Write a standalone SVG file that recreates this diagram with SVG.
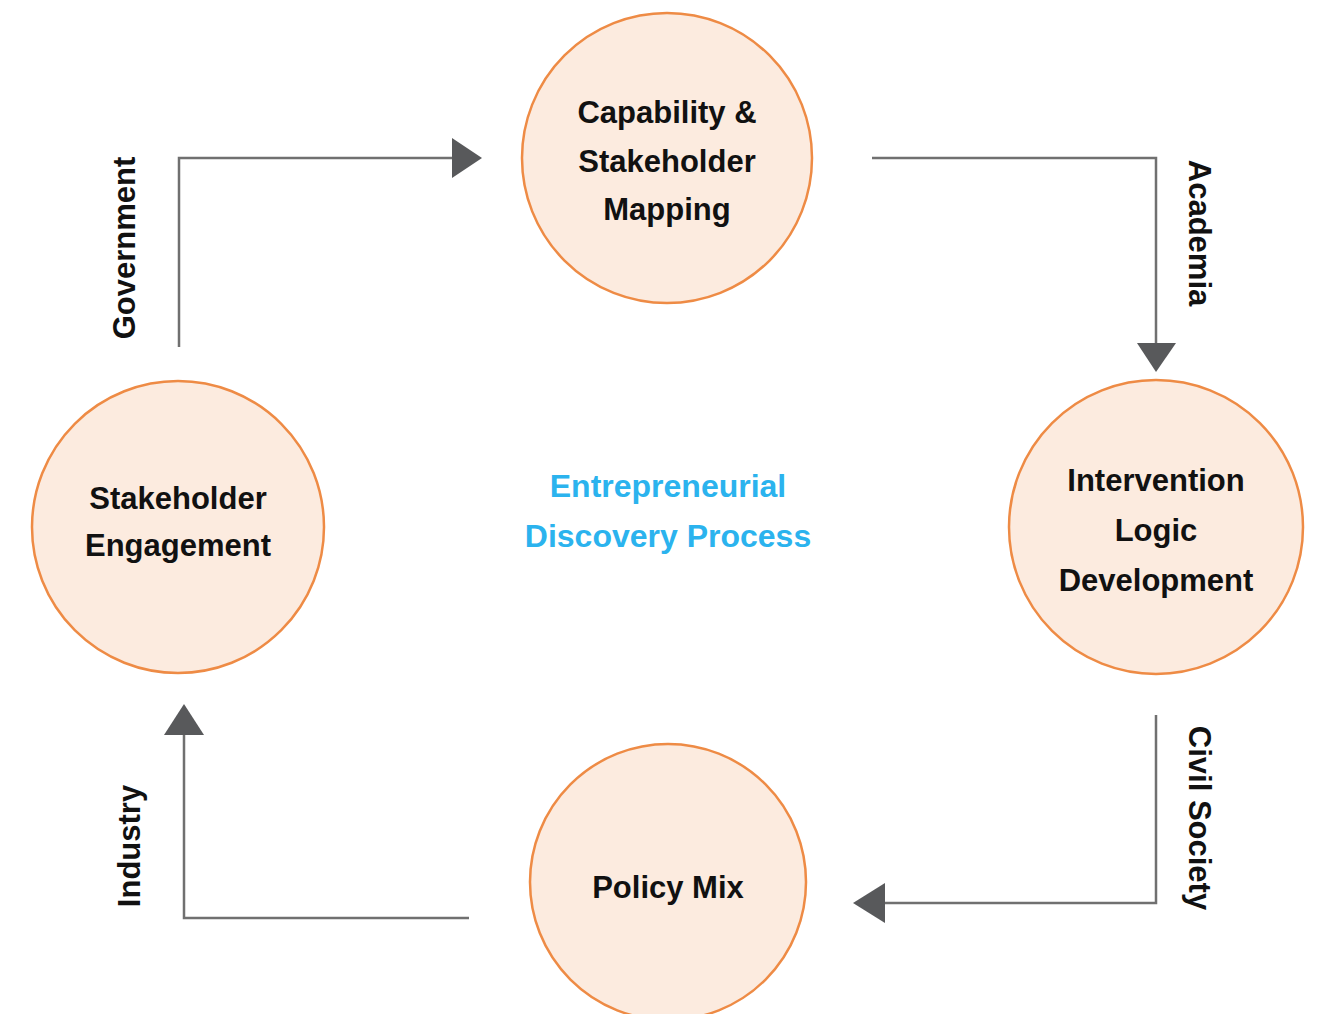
<svg xmlns="http://www.w3.org/2000/svg" width="1318" height="1014" viewBox="0 0 1318 1014">
<style>
.node{fill:#FCEBDF;stroke:#EE8B45;stroke-width:2.5}
.nt{font-family:"Liberation Sans",Arial,sans-serif;font-weight:bold;font-size:31px;fill:#111;text-anchor:middle}
.lbl{font-family:"Liberation Sans",Arial,sans-serif;font-weight:bold;font-size:31px;fill:#111;text-anchor:middle}
.ctr{font-family:"Liberation Sans",Arial,sans-serif;font-weight:bold;font-size:32px;fill:#2BB3EE;text-anchor:middle}
.conn{fill:none;stroke:#707070;stroke-width:2.5}
.head{fill:#58595B}
</style>
<rect width="1318" height="1014" fill="#fff"/>
<g id="connectors">
<polyline class="conn" points="179,347 179,158 455,158"/>
<polygon class="head" points="452,138 482,158 452,178"/>
<polyline class="conn" points="872,158 1156,158 1156,345"/>
<polygon class="head" points="1137,343 1176,343 1156,372"/>
<polyline class="conn" points="1156,715 1156,903 884,903"/>
<polygon class="head" points="885,883 885,923 853,903"/>
<polyline class="conn" points="469,918 184,918 184,735"/>
<polygon class="head" points="164,735 204,735 184,704"/>
<text class="lbl" transform="translate(135,248) rotate(-90)">Government</text>
<text class="lbl" transform="translate(1189,233) rotate(90)">Academia</text>
<text class="lbl" transform="translate(1189,818) rotate(90)">Civil Society</text>
<text class="lbl" transform="translate(140,846) rotate(-90)">Industry</text>
</g>
<g id="node-capability">
<circle class="node" cx="667" cy="158" r="145"/>
<text class="nt" x="667" y="123">Capability &amp;</text>
<text class="nt" x="667" y="172">Stakeholder</text>
<text class="nt" x="667" y="220">Mapping</text>
</g>
<g id="node-intervention">
<circle class="node" cx="1156" cy="527" r="147"/>
<text class="nt" x="1156" y="491">Intervention</text>
<text class="nt" x="1156" y="541">Logic</text>
<text class="nt" x="1156" y="591">Development</text>
</g>
<g id="node-policy">
<circle class="node" cx="668" cy="882" r="138"/>
<text class="nt" x="668" y="898">Policy Mix</text>
</g>
<g id="node-engagement">
<circle class="node" cx="178" cy="527" r="146"/>
<text class="nt" x="178" y="509">Stakeholder</text>
<text class="nt" x="178" y="556">Engagement</text>
</g>
<g id="center-label">
<text class="ctr" x="668" y="497">Entrepreneurial</text>
<text class="ctr" x="668" y="547">Discovery Process</text>
</g>
</svg>
